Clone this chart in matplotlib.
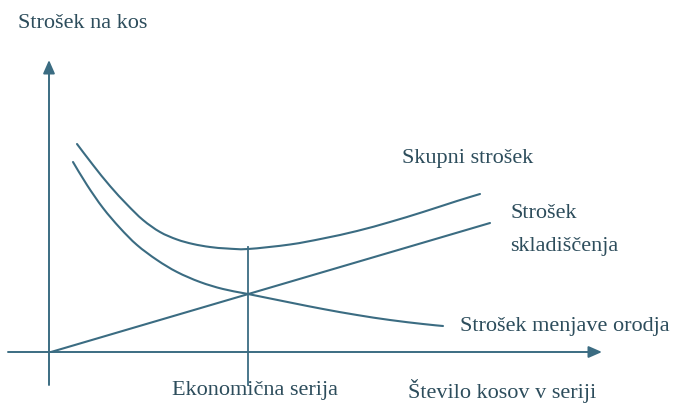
import numpy as np
import matplotlib.pyplot as plt
from matplotlib.path import Path
from matplotlib.patches import PathPatch

# values (x: pieces per series, y: cost per piece, arbitrary units)
total_x = [2.6, 4.2, 5.9, 7.6, 9.2, 10.9, 12.6, 14.2, 15.9, 17.6, 19.7,
           23.9, 27.2, 30.6, 33.9, 37.2, 40.6, 42.9]
total_y = [20.8, 18.7, 16.6, 14.75, 13.2, 12.0, 11.25, 10.8, 10.5, 10.35, 10.3,
           10.75, 11.35, 12.1, 13.0, 14.0, 15.1, 15.8]

tool_x = [2.2, 3.6, 5.2, 6.9, 8.6, 10.6, 12.6, 14.9, 17.2, 19.7,
          23.9, 27.2, 30.6, 33.9, 37.2, 39.2]
tool_y = [19.0, 16.7, 14.4, 12.4, 10.7, 9.2, 8.0, 7.0, 6.3, 5.8,
          4.95, 4.3, 3.7, 3.2, 2.8, 2.6]

storage_x = [0.0, 43.9]
storage_y = [0.0, 12.9]

econ_x = 19.7
econ_top = 10.5

line_col = '#3b6c82'
text_col = '#2d4d5c'
font = 'Liberation Serif'


def smooth_path(xs, ys):
    # bezier segments through the read points (catmull-rom style handles)
    p = np.column_stack([xs, ys])
    verts = [p[0]]
    codes = [Path.MOVETO]
    for i in range(len(p) - 1):
        p0 = p[i - 1] if i > 0 else p[i]
        p3 = p[i + 2] if i + 2 < len(p) else p[i + 1]
        c1 = p[i] + (p[i + 1] - p0) / 6
        c2 = p[i + 1] - (p3 - p[i]) / 6
        verts += [c1, c2, p[i + 1]]
        codes += [Path.CURVE4] * 3
    return Path(verts, codes)


fig = plt.figure(figsize=(6.73, 4.07), dpi=100)
ax = fig.add_axes([0, 0, 1, 1])
ax.set_xlim(-5.1, 62.2)
ax.set_ylim(-5.5, 35.2)
ax.axis('off')

# axes with arrows
arw = dict(arrowstyle='-|>,head_length=0.8,head_width=0.35',
           color=line_col, lw=1.4, shrinkA=0, shrinkB=0)
ax.annotate('', xy=(55.1, 0), xytext=(-4.3, 0), arrowprops=arw)
ax.annotate('', xy=(-0.2, 29.2), xytext=(-0.2, -3.3), arrowprops=arw)

# curves
for xs, ys in [(total_x, total_y), (tool_x, tool_y)]:
    ax.add_patch(PathPatch(smooth_path(xs, ys), facecolor='none',
                           edgecolor=line_col, lw=1.5, capstyle='round'))
ax.plot(storage_x, storage_y, color=line_col, lw=1.5, solid_capstyle='round')
ax.plot([econ_x, econ_x], [-3.3, econ_top], color=line_col, lw=1.3)

# labels
tk = dict(color=text_col, family=font, fontsize=16, va='center', ha='left')
ax.text(-3.3, 32.8, 'Strošek na kos', **tk)
ax.text(35.1, 19.4, 'Skupni strošek', **tk)
ax.text(45.9, 13.8, 'Strošek', **tk)
ax.text(45.9, 10.6, 'skladiščenja', **tk)
ax.text(40.9, 2.6, 'Strošek menjave orodja', **tk)
ax.text(12.1, -3.9, 'Ekonomična serija', **tk)
ax.text(35.7, -3.9, 'Število kosov v seriji', **tk)

fig.savefig('out.png', dpi=100, facecolor='white')
